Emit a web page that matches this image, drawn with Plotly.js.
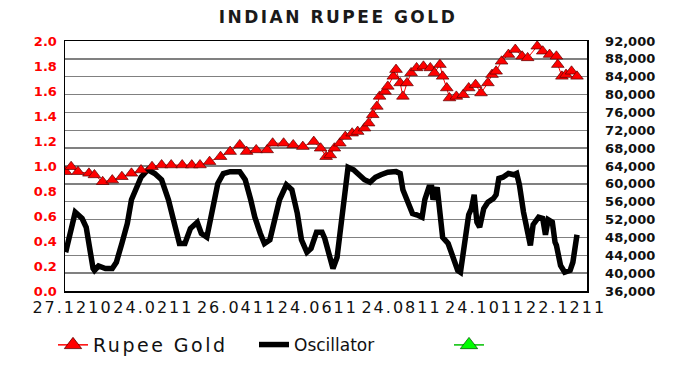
<!DOCTYPE html>
<html>
<head>
<meta charset="utf-8">
<script src="https://cdn.plot.ly/plotly-3.0.1.min.js"></script>
<style>
html,body{margin:0;padding:0;background:#fff;}
#chart{width:680px;height:367px;}
#chart .xtick text{letter-spacing:2px;}
#chart .gtitle{letter-spacing:2.5px;}
#chart .legendtext{letter-spacing:2.5px;}
</style>
</head>
<body>
<div id="chart"></div>
<script>
// x values are days counted from 27.12.2010
var tickDays = [0, 59, 120, 179, 240, 301, 360];
var tickLabels = ["27.1210", "24.0211", "26.0411", "24.0611", "24.0811", "24.1011", "22.1211"];

var goldDays = [-5,-1,4,12,16,22,29,36,43,50,58,65,72,80,87,93,100,108,115,122,127,134,142,146,154,161,168,176,181,185,188,191,195,199,204,208,213,216,219,222,224,228,230,234,236,239,241,244,247,251,256,261,264,268,270,273,275,280,285,289,294,298,303,306,309,313,318,323,328,332,339,343,348,353,354,357,360,364,368];
var goldValues = [62720,63840,62720,62360,62000,60470,60850,61600,62360,63100,63840,64220,64220,64220,64200,64220,64970,66090,67220,68720,67220,67600,67600,69100,69100,68720,68340,69460,67980,66090,66470,67980,69100,70590,71350,71710,72480,73600,75470,77340,79590,80710,81830,84080,85590,82600,79590,82600,84850,85970,86330,85970,84850,86710,84080,81470,79230,79590,79970,81470,82220,80350,82600,84470,85210,87460,88960,90090,88580,88220,90830,89710,88960,88580,86710,84080,84470,85210,84080];

var oscDays = [-5,2,7,10,15,16,19,24,29,32,36,40,43,47,50,55,60,65,70,75,78,82,86,91,94,98,103,106,110,115,122,126,130,133,137,140,144,148,151,156,160,164,167,171,174,178,182,184,189,190,193,196,199,201,205,208,213,217,221,225,230,236,239,241,245,248,251,255,257,260,262,263,266,268,270,274,278,281,283,285,289,291,293,295,297,300,303,307,309,311,314,318,322,324,326,329,331,334,336,340,343,345,347,350,352,353,356,359,363,365,368];
var oscValues = [0.31,0.63,0.58,0.51,0.18,0.165,0.20,0.18,0.18,0.23,0.38,0.54,0.73,0.83,0.91,0.97,0.94,0.89,0.73,0.51,0.38,0.38,0.50,0.55,0.46,0.43,0.67,0.86,0.94,0.955,0.955,0.89,0.73,0.59,0.46,0.38,0.41,0.57,0.73,0.85,0.81,0.62,0.41,0.31,0.34,0.47,0.47,0.42,0.20,0.18,0.27,0.57,0.81,0.99,0.97,0.94,0.89,0.87,0.91,0.93,0.95,0.955,0.94,0.81,0.70,0.62,0.61,0.59,0.73,0.83,0.83,0.73,0.83,0.62,0.43,0.38,0.27,0.165,0.15,0.31,0.61,0.66,0.77,0.55,0.51,0.66,0.71,0.74,0.77,0.90,0.91,0.94,0.93,0.94,0.85,0.63,0.53,0.365,0.53,0.59,0.58,0.45,0.57,0.55,0.39,0.365,0.205,0.15,0.165,0.23,0.45];

var FONT = "DejaVu Sans";

var traces = [
  {
    x: goldDays, y: goldValues, yaxis: "y2", type: "scatter", mode: "lines+markers",
    name: "Rupee Gold", showlegend: false,
    line: {color: "#ff0000", width: 1},
    marker: {symbol: "triangle-up", size: 11, color: "#ff0000", line: {color: "#5a0000", width: 0.7}}
  },
  {
    x: [null], y: [null], yaxis: "y2", type: "scatter", mode: "lines+markers",
    name: "Rupee Gold", legend: "legend",
    line: {color: "#ff0000", width: 1.5},
    marker: {symbol: "triangle-up", size: 15, color: "#ff0000", line: {color: "#5a0000", width: 0.8}}
  },
  {
    x: oscDays, y: oscValues, yaxis: "y", type: "scatter", mode: "lines",
    name: "Oscillator", legend: "legend2",
    line: {color: "#000000", width: 5.5}
  },
  {
    x: [null], y: [null], yaxis: "y", type: "scatter", mode: "lines+markers",
    name: " ", legend: "legend3",
    line: {color: "#00c000", width: 1.5},
    marker: {symbol: "triangle-up", size: 15, color: "#00ff00", line: {color: "#006000", width: 0.8}}
  }
];

function legendAt(px, size, w) {
  return {
    orientation: "h", xref: "container", yref: "container",
    x: px / 680, xanchor: "left", y: 1 - 345 / 367, yanchor: "middle",
    entrywidth: w, entrywidthmode: "pixels",
    font: {family: FONT, size: size, color: "#111111"},
    bgcolor: "rgba(0,0,0,0)", borderwidth: 0
  };
}

var layout = {
  width: 680, height: 367,
  margin: {l: 65, r: 93, t: 41, b: 76},
  paper_bgcolor: "#ffffff", plot_bgcolor: "#ffffff",
  title: {
    text: "INDIAN RUPEE GOLD",
    x: 0.497, xref: "container", xanchor: "center",
    y: 0.953, yref: "container", yanchor: "middle",
    font: {family: FONT, size: 17, color: "#1a1a1a", weight: "bold"}
  },
  xaxis: {
    type: "linear", range: [-5.47, 375.3],
    tickmode: "array", tickvals: tickDays, ticktext: tickLabels,
    showgrid: false, zeroline: false,
    showline: true, mirror: true, linecolor: "#000000", linewidth: 1.5,
    ticks: "", tickangle: 0, ticklabelstandoff: 1,
    tickfont: {family: FONT, size: 16, color: "#111111"}
  },
  yaxis: {
    range: [0, 2], dtick: 0.2, tick0: 0, tickformat: ".1f",
    showgrid: false, zeroline: false,
    showline: true, linecolor: "#000000", linewidth: 1.5,
    ticks: "", ticklabelstandoff: 4,
    tickfont: {family: FONT, size: 13, color: "#ff0000", weight: "bold"}
  },
  yaxis2: {
    overlaying: "y", side: "right",
    range: [36000, 92000], dtick: 4000, tick0: 36000, tickformat: ",d",
    showgrid: true, gridcolor: "#808080", gridwidth: 1.5,
    zeroline: false,
    showline: true, linecolor: "#000000", linewidth: 1.5,
    ticks: "", ticklabelstandoff: 14,
    tickfont: {family: FONT, size: 13, color: "#111111", weight: "bold"}
  },
  showlegend: true,
  legend: legendAt(53, 19, 160),
  legend2: legendAt(254, 17, 120),
  legend3: legendAt(449, 16, 20)
};

Plotly.newPlot("chart", traces, layout, {displayModeBar: false, staticPlot: true});
</script>
</body>
</html>
